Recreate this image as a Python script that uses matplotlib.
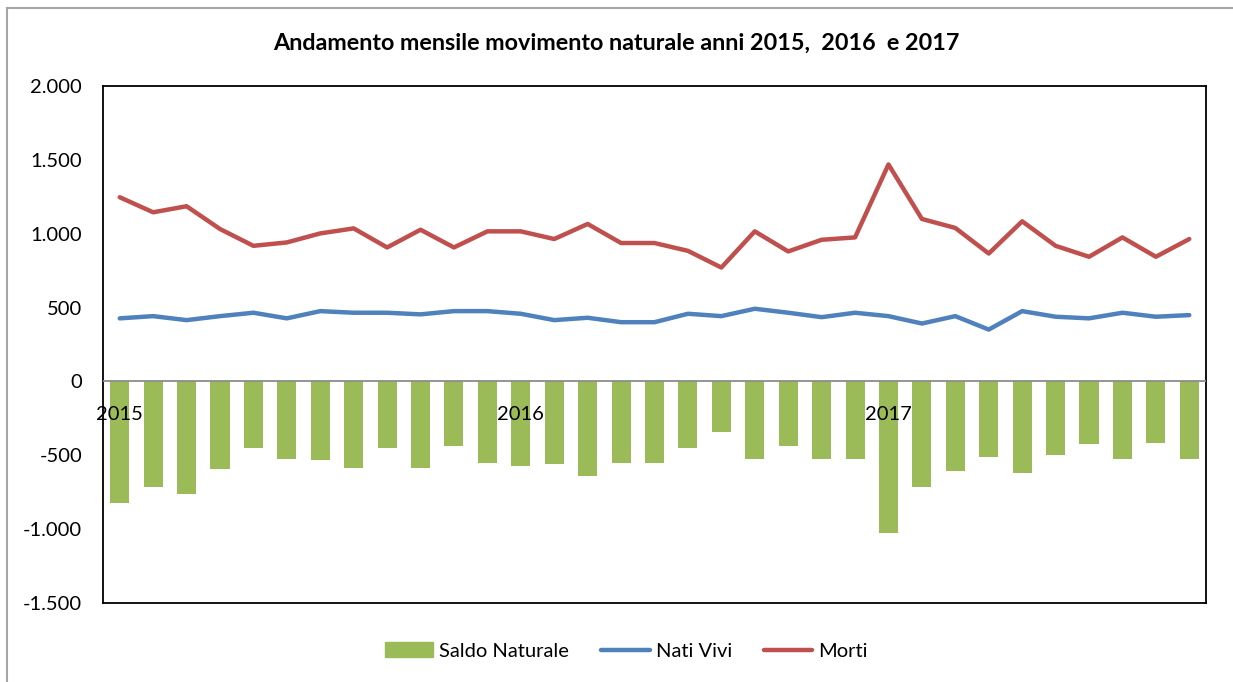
import matplotlib
matplotlib.use("Agg")
import matplotlib.pyplot as plt
from matplotlib.lines import Line2D
from matplotlib.patches import Patch
from matplotlib.ticker import FuncFormatter
import matplotlib.transforms as mtransforms

plt.rcParams['font.family'] = ['Lato', 'DejaVu Sans']

# monthly values (Jan 2015 .. Sep 2017)
nati_vivi = [427, 442, 415, 442, 465, 427, 476, 465, 465, 454, 476,
             476, 458, 415, 431, 401, 401, 458, 442, 492, 465, 435,
             465, 442, 392, 442, 351, 476, 438, 427, 465, 438, 449]
morti = [1247, 1145, 1186, 1032, 918, 941, 1002, 1036, 907, 1027, 907,
         1016, 1016, 964, 1066, 937, 937, 884, 771, 1016, 880, 959,
         975, 1469, 1100, 1039, 866, 1084, 918, 844, 975, 844, 964]
saldo = [-821, -714, -760, -594, -449, -522, -533, -583, -449, -583, -437,
         -549, -571, -560, -642, -549, -549, -449, -345, -522, -438, -522,
         -522, -1025, -714, -608, -510, -619, -499, -426, -522, -415, -522]
year_labels = ['2015', '2016', '2017']
year_pos = [0, 12, 23]
y_ticks = [-1500, -1000, -500, 0, 500, 1000, 1500, 2000]

W, H = 1233, 682
fig = plt.figure(figsize=(W / 100, H / 100), dpi=100)

# outer chart border (light grey)
fig.add_artist(Line2D([7 / W, 1], [1 - 8 / H, 1 - 8 / H], color='#a6a6a6', lw=1.5))
fig.add_artist(Line2D([7 / W, 7 / W], [0, 1 - 8 / H], color='#a6a6a6', lw=1.5))

left, right, top, bottom = 103, 1206, 86, 603
ax = fig.add_axes([left / W, 1 - bottom / H, (right - left) / W, (bottom - top) / H])

x = list(range(len(saldo)))
ax.bar(x, saldo, width=0.57, color='#9BBB59', zorder=2)
ax.axhline(0, color='#8c8c8c', lw=1.3, zorder=3)
ax.plot(x, nati_vivi, color='#4F81BD', lw=3.2, zorder=4, solid_capstyle='round')
ax.plot(x, morti, color='#C0504D', lw=3.2, zorder=4, solid_capstyle='round')

ax.set_xlim(-0.5, len(saldo) - 0.5)
ax.set_ylim(-1500, 2000)
ax.set_yticks(y_ticks)
ax.yaxis.set_major_formatter(FuncFormatter(lambda v, p: f"{int(v):,}".replace(",", ".")))
ax.tick_params(axis='y', length=0, pad=15, labelsize=14.5)
ax.set_xticks([])
for s in ax.spines.values():
    s.set_color('black')
    s.set_linewidth(1.3)

# year labels just below the zero line
off = mtransforms.offset_copy(ax.transData, fig=fig, x=0, y=-33, units='dots')
for pos, lab in zip(year_pos, year_labels):
    ax.text(pos, 0, lab, transform=off, ha='center', va='center', fontsize=14.5, zorder=5)

fig.text(0.5, 1 - 43 / H, 'Andamento mensile movimento naturale anni 2015,  2016  e 2017',
         ha='center', va='center', fontsize=16.8, fontweight='bold')

handles = [Patch(color='#9BBB59'),
           Line2D([], [], color='#4F81BD', lw=3.2, solid_capstyle='round'),
           Line2D([], [], color='#C0504D', lw=3.2, solid_capstyle='round')]
fig.legend(handles, ['Saldo Naturale', 'Nati Vivi', 'Morti'], loc='center',
           bbox_to_anchor=(0.508, 1 - 651 / H), ncol=3, frameon=False, fontsize=14.5,
           handlelength=2.4, handletextpad=0.3, columnspacing=1.6)

fig.savefig('out.png', dpi=100)
